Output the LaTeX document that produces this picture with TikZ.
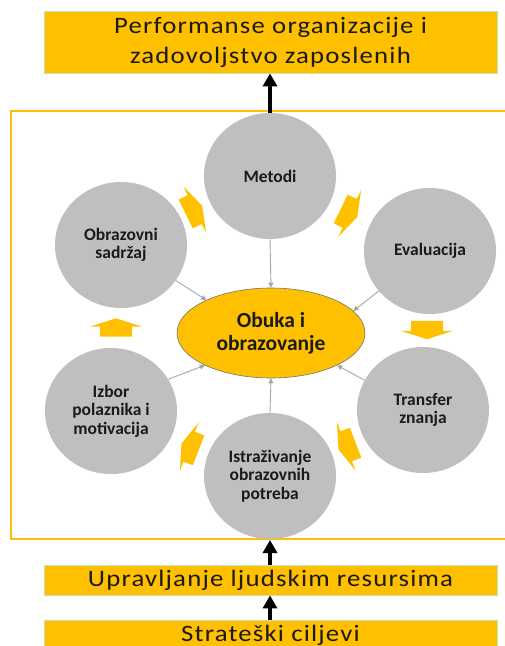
\documentclass[tikz,border=0pt]{standalone}
\usepackage{fontspec}
\setmainfont{Carlito}
\newfontfamily\bannerfont[FakeStretch=1.14,LetterSpace=5]{Carlito}
\usetikzlibrary{arrows.meta,shapes.geometric}
\definecolor{gold}{HTML}{FFC000}
\definecolor{disc}{HTML}{BFBFBF}
\definecolor{link}{HTML}{A6A6A6}
\definecolor{rim}{HTML}{C5E0B4}
\definecolor{ink}{HTML}{1A1A1A}
\tikzset{
  chev/.pic={\fill[gold] (-9.2,-16) -- (0.8,-16) -- (0.8,-26) -- (9.2,0)
              -- (0.8,26) -- (0.8,16) -- (-9.2,16) -- cycle;}
}
\begin{document}
\begin{tikzpicture}[x=1bp,y=-1bp,
  banner/.style={fill=gold, draw=rim, line width=0.8bp, minimum width=453bp,
    inner sep=0pt, align=center, text=ink,
    font=\bannerfont\fontsize{23.5bp}{30bp}\selectfont},
  stage/.style={ellipse, fill=disc, minimum width=132bp, minimum height=126bp,
    inner sep=0pt, align=center, text=ink,
    font=\bfseries\fontsize{17.5bp}{18.5bp}\selectfont},
  hub/.style={ellipse, fill=gold, draw=black!55, line width=0.6bp,
    minimum width=188bp, minimum height=90bp, inner sep=0pt, align=center,
    text=ink, font=\bfseries\fontsize{21.5bp}{23bp}\selectfont},
  feed/.style={draw=link, line width=0.9bp, -{Triangle[length=5bp,width=5bp]}},
  lift/.style={draw=black, line width=4.5bp, -{Triangle[length=13bp,width=14bp]}},
]
\useasboundingbox (0,0) rectangle (505,646);
\clip (0,0) rectangle (505,646);

% outer frame around the cycle
\node[draw=gold, line width=2bp, minimum width=509bp, minimum height=428bp,
      inner sep=0pt] (frame) at (265.5,325) {};

% banners
\node[banner, minimum height=62bp] (top) at (270.5,42)
  {Performanse organizacije i\\zadovoljstvo zaposlenih};
\node[banner, minimum height=30bp] (hr) at (270.5,580) {Upravljanje ljudskim resursima};
\node[banner, minimum height=30bp] (sc) at (270.5,635) {Strateški ciljevi};

% cycle stages
\node[stage] (met) at (270,176) {Metodi};
\node[stage] (eva) at (430,251) {Evaluacija};
\node[stage] (tra) at (423,410) {Transfer\\znanja};
\node[stage] (ist) at (270,476) {Istraživanje\\obrazovnih\\potreba};
\node[stage] (izb) at (111,411) {Izbor\\polaznika i\\motivacija};
\node[stage] (obr) at (121,245) {Obrazovni\\sadržaj};

% centre
\node[hub] (hub) at (271,333) {Obuka i\\obrazovanje};

% links into the centre
\draw[feed] (met.south) -- (hub.north);
\draw[feed] (ist.north) -- (hub.south);
\draw[feed] (obr.-33) -- (hub.153);
\draw[feed] (eva.218) -- (hub.15);
\draw[feed] (izb.29) -- (hub.206);
\draw[feed] (tra.153) -- (hub.-26);

% cycle arrows
\pic[rotate=90]  at (116,327.5) {chev};
\pic[rotate=26]  at (194,210)   {chev};
\pic[rotate=-26] at (349,213)   {chev};
\pic[rotate=-90] at (427,330)   {chev};
\pic[rotate=-159] at (347,446)  {chev};
\pic[rotate=159] at (190,447)   {chev};

% vertical flow
\draw[lift] (met.north) -- (met.north |- top.south);
\draw[lift] (hr.north -| ist.south) -- (ist.south |- frame.south);
\draw[lift] (sc.north -| ist.south) -- (hr.south -| ist.south);
\end{tikzpicture}
\end{document}
